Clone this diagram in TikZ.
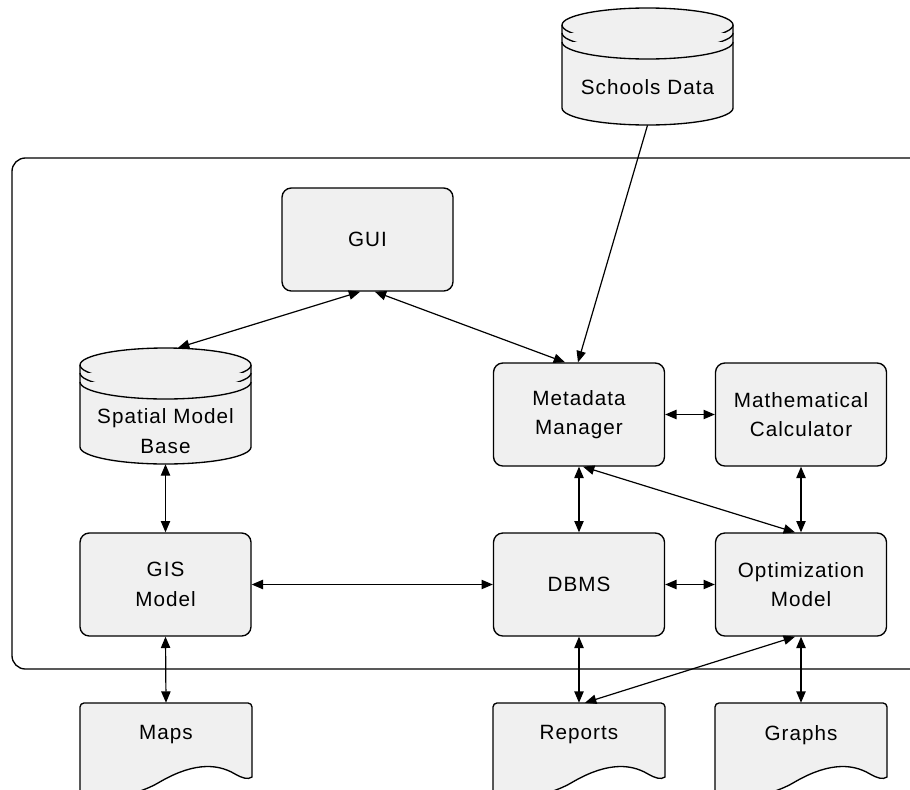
\documentclass[tikz,border=0pt]{standalone}
\usepackage{fontspec}
\setmainfont{Liberation Sans}[LetterSpace=5]
\usetikzlibrary{arrows.meta}

\definecolor{boxgray}{RGB}{240,240,240}

% database cylinder: #1 centre x, #2 top-ellipse centre y, #3 bottom-ellipse centre y
\newcommand{\dbcyl}[3]{%
  \filldraw[shapeline] (#1-85.5,#2) -- (#1-85.5,#3)
    arc[start angle=180,end angle=360,x radius=85.5,y radius=17]
    -- (#1+85.5,#2)
    arc[start angle=0,end angle=180,x radius=85.5,y radius=17] -- cycle;
  \draw[shapeline] (#1-85.5,#2) arc[start angle=180,end angle=360,x radius=85.5,y radius=17];
  \draw[shapeline] (#1-85.5,#2-8) arc[start angle=180,end angle=360,x radius=85.5,y radius=17];
  \draw[shapeline] (#1-85.5,#2-17) arc[start angle=180,end angle=360,x radius=85.5,y radius=17];
}

% document sheet with wavy lower edge: #1 left x
\newcommand{\docsheet}[1]{%
  \filldraw[shapeline] (#1,-800) [rounded corners=3pt] -- (#1,-703) -- (#1+172,-703)
    [sharp corners] -- (#1+172,-777)
    .. controls (#1+168,-780) and (#1+162,-778) .. (#1+155,-774)
    .. controls (#1+135,-762) and (#1+110,-764) .. (#1+78,-783)
    .. controls (#1+50,-799) and (#1+22,-797) .. (#1,-792) -- cycle;
}

\tikzset{
  shapeline/.style={draw=black, fill=boxgray, line width=1pt},
  box/.style={draw=black, fill=boxgray, line width=1pt, rounded corners=7pt,
    minimum width=128.25pt, minimum height=77.25pt, inner sep=0pt,
    align=center, font=\fontsize{15.5}{22}\selectfont},
  label/.style={inner sep=0pt, align=center, font=\fontsize{15.5}{22}\selectfont},
  anchorbox/.style={inner sep=0pt, minimum width=128.25pt},
  link/.style={line width=0.9pt,
    {Triangle[length=8.5pt,width=7pt]}-{Triangle[length=8.5pt,width=7pt]}},
  feed/.style={line width=0.9pt, -{Triangle[length=8.5pt,width=7pt]}},
}

\begin{document}
\begin{tikzpicture}[x=0.75pt,y=0.75pt]
\useasboundingbox (0,0) rectangle (910,-789);
\clip (0,0) rectangle (910,-789);

% system boundary
\draw[line width=1pt, rounded corners=10pt] (12,-158) rectangle (940,-669);

% data stores
\dbcyl{647.5}{-25}{-108}
\node[anchorbox, minimum height=87.75pt] (school) at (647.5,-66.5) {};
\node[label] (schooltxt) at (647.5,-87) {Schools Data};

\dbcyl{165.5}{-365}{-447}
\node[anchorbox, minimum height=87pt] (smb) at (165.5,-406) {};
\node[label] (smbtxt) at (165.5,-431) {Spatial Model\\Base};

% processing components
\node[box] (gui)  at (367.5,-239.5) {GUI};
\node[box] (meta) at (579,-414.5) {Metadata\\Manager};
\node[box] (math) at (801,-414.5) {Mathematical\\Calculator};
\node[box] (gis)  at (165.5,-584.5) {GIS\\Model};
\node[box] (dbms) at (579,-584.5) {DBMS};
\node[box] (opt)  at (801,-584.5) {Optimization\\Model};

% outputs
\docsheet{80}
\docsheet{493}
\docsheet{715}
\node[anchorbox, minimum height=48pt, font=\fontsize{15.5}{22}\selectfont] (maps) at (166,-735) {Maps};
\node[anchorbox, minimum height=48pt, font=\fontsize{15.5}{22}\selectfont] (reports) at (579,-735) {Reports};
\node[anchorbox, minimum height=48pt, font=\fontsize{15.5}{22}\selectfont] (graphs) at (801,-735) {Graphs};

% connectors
\draw[link] ([xshift=-5.5pt]gui.south) -- ([xshift=9.4pt]smb.north);
\draw[link] ([xshift=5.5pt]gui.south) -- ([xshift=-10.5pt]meta.north);
\draw[feed] (school.south) -- ([xshift=-0.75pt]meta.north);
\draw[link] (meta.east) -- (math.west);
\draw[link] (meta.south) -- (dbms.north);
\draw[link] ([xshift=3pt]meta.south) -- ([xshift=-4.5pt]opt.north);
\draw[link] (math.south) -- (opt.north);
\draw[link] (smb.south) -- (gis.north);
\draw[link] (gis.east) -- (dbms.west);
\draw[link] (dbms.east) -- (opt.west);
\draw[link] (gis.south) -- (maps.north);
\draw[link] (dbms.south) -- (reports.north);
\draw[link] ([xshift=-4.5pt]opt.south) -- ([xshift=4.5pt]reports.north);
\draw[link] (opt.south) -- (graphs.north);
\end{tikzpicture}
\end{document}
